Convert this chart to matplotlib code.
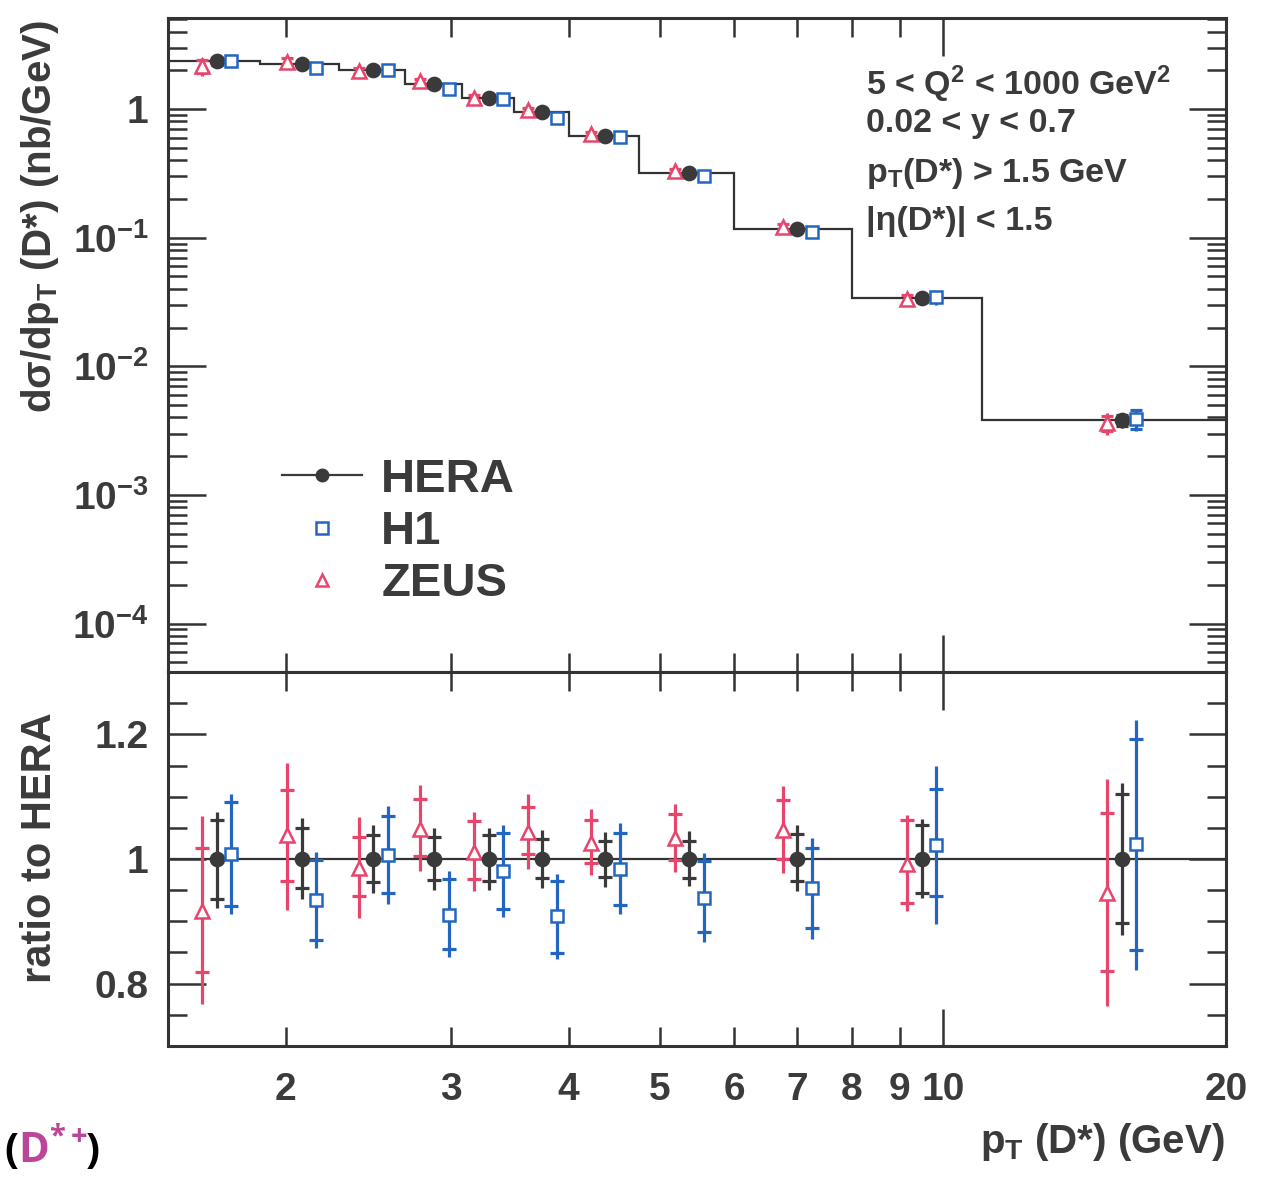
import matplotlib
matplotlib.use("Agg")
import matplotlib.pyplot as plt
import numpy as np
from matplotlib.lines import Line2D
from matplotlib.ticker import FixedLocator, FuncFormatter, LogLocator, MultipleLocator, NullFormatter

plt.rcParams['font.family'] = ['Liberation Sans', 'DejaVu Sans']
plt.rcParams['font.weight'] = 'bold'
plt.rcParams['mathtext.fontset'] = 'custom'
plt.rcParams['mathtext.rm'] = 'Liberation Sans:bold'
plt.rcParams['mathtext.it'] = 'Liberation Sans:bold'
plt.rcParams['mathtext.bf'] = 'Liberation Sans:bold'
plt.rcParams['mathtext.default'] = 'regular'

# ---------------- data ----------------
pt_edges = [1.5, 1.88, 2.28, 2.68, 3.08, 3.5, 4.0, 4.75, 6.0, 8.0, 11.0, 20.0]

# d sigma / d pT (nb/GeV)
hera_xsec = [2.35, 2.23, 2.0, 1.57, 1.21, 0.94, 0.62, 0.32, 0.116, 0.0337, 0.0038]
h1_xsec = [2.37, 2.09, 2.01, 1.43, 1.19, 0.854, 0.610, 0.300, 0.111, 0.0345, 0.0039]
zeus_xsec = [2.15, 2.31, 1.97, 1.65, 1.22, 0.98, 0.636, 0.331, 0.121, 0.0334, 0.0036]

# ratio to HERA: central value, inner (tick) and total (line end) uncertainties
hera_ratio = [1.0] * 11
hera_in_hi = [1.063, 1.050, 1.038, 1.035, 1.039, 1.032, 1.029, 1.029, 1.040, 1.055, 1.105]
hera_in_lo = [0.936, 0.953, 0.963, 0.967, 0.964, 0.969, 0.971, 0.970, 0.965, 0.946, 0.898]
hera_tot_hi = [1.076, 1.065, 1.055, 1.049, 1.049, 1.046, 1.044, 1.045, 1.054, 1.064, 1.122]
hera_tot_lo = [0.921, 0.936, 0.945, 0.951, 0.950, 0.954, 0.955, 0.956, 0.949, 0.937, 0.878]

h1_ratio = [1.008, 0.935, 1.007, 0.910, 0.981, 0.908, 0.984, 0.937, 0.953, 1.023, 1.024]
h1_in_hi = [1.091, 0.999, 1.069, 0.968, 1.041, 0.965, 1.042, 0.997, 1.017, 1.112, 1.192]
h1_in_lo = [0.925, 0.870, 0.945, 0.855, 0.919, 0.849, 0.926, 0.883, 0.890, 0.941, 0.854]
h1_tot_hi = [1.104, 1.011, 1.085, 0.980, 1.055, 0.976, 1.057, 1.009, 1.034, 1.150, 1.223]
h1_tot_lo = [0.912, 0.858, 0.928, 0.842, 0.907, 0.839, 0.912, 0.867, 0.871, 0.895, 0.822]

zeus_ratio = [0.917, 1.038, 0.985, 1.048, 1.012, 1.043, 1.026, 1.033, 1.046, 0.992, 0.945]
zeus_in_hi = [1.018, 1.110, 1.035, 1.096, 1.061, 1.084, 1.062, 1.072, 1.094, 1.062, 1.074]
zeus_in_lo = [0.819, 0.965, 0.940, 1.005, 0.968, 1.008, 0.994, 0.998, 1.000, 0.929, 0.820]
zeus_tot_hi = [1.069, 1.154, 1.068, 1.119, 1.076, 1.104, 1.081, 1.088, 1.117, 1.071, 1.129]
zeus_tot_lo = [0.768, 0.918, 0.905, 0.981, 0.948, 0.984, 0.974, 0.979, 0.977, 0.917, 0.764]

x_major = [10]
x_minor = [2, 3, 4, 5, 6, 7, 8, 9, 20]
ratio_major = [0.8, 1.0, 1.2]
ratio_labels = ["0.8", "1", "1.2"]

cuts = ["5 < Q$^{2}$ < 1000 GeV$^{2}$", "0.02 < y < 0.7",
        "p$_{T}$(D*) > 1.5 GeV", "|\u03b7(D*)| < 1.5"]

# ---------------- style ----------------
TXT = '#3b3b3b'
AXC = '#333333'
C_HERA = '#3a3a3a'
C_H1 = '#2266c2'
C_ZEUS = '#e8456c'

W, H = 1268, 1178
fig = plt.figure(figsize=(W / 100, H / 100), dpi=100)
L, R = 168, 1226
T1, M, B2 = 18, 672, 1046
ax1 = fig.add_axes([L / W, 1 - M / H, (R - L) / W, (M - T1) / H])
ax2 = fig.add_axes([L / W, 1 - B2 / H, (R - L) / W, (B2 - M) / H])

edges = np.array(pt_edges)
xc = 0.5 * (edges[:-1] + edges[1:])
shift = 1.036
x_z = xc / shift
x_h = xc * shift


def draw(ax, x, y, ilo, ihi, tlo, thi, color, marker, filled, ms, tick_ms=10):
    ax.vlines(x, tlo, thi, colors=color, lw=2.3, zorder=3)
    ax.plot(x, ilo, ls='none', marker='_', ms=tick_ms, mew=2.3, color=color, zorder=3)
    ax.plot(x, ihi, ls='none', marker='_', ms=tick_ms, mew=2.3, color=color, zorder=3)
    ax.plot(x, y, ls='none', marker=marker, ms=ms, mfc=(color if filled else 'white'),
            mec=color, mew=1.8, zorder=4)


# ---- top panel ----
hx = np.array(hera_xsec)
ax1.stairs(hx, edges, baseline=None, color=AXC, lw=1.6, zorder=2)
for (x, v, r, ilo, ihi, tlo, thi, c, m, f, ms) in [
        (x_z, zeus_xsec, zeus_ratio, zeus_in_lo, zeus_in_hi, zeus_tot_lo, zeus_tot_hi, C_ZEUS, '^', False, 9.5),
        (xc, hera_xsec, hera_ratio, hera_in_lo, hera_in_hi, hera_tot_lo, hera_tot_hi, C_HERA, 'o', True, 9.5),
        (x_h, h1_xsec, h1_ratio, h1_in_lo, h1_in_hi, h1_tot_lo, h1_tot_hi, C_H1, 's', False, 9)]:
    v = np.array(v); r = np.array(r)
    draw(ax1, x, v, v * np.array(ilo) / r, v * np.array(ihi) / r,
         v * np.array(tlo) / r, v * np.array(thi) / r, c, m, f, ms, tick_ms=8)

ax1.set_yscale('log')
ax1.set_ylim(4.2e-5, 5.1)
ax1.yaxis.set_major_locator(LogLocator(base=10, numticks=20))
ax1.yaxis.set_minor_locator(LogLocator(base=10, subs=np.arange(2, 10), numticks=20))
ax1.yaxis.set_minor_formatter(NullFormatter())
ax1.yaxis.set_major_formatter(FuncFormatter(
    lambda v, p: "1" if abs(v - 1) < 1e-9 else "10$^{%d}$" % int(round(np.log10(v)))))

# ---- ratio panel ----
ax2.stairs(np.array(hera_ratio), edges, baseline=None, color=AXC, lw=1.6, zorder=2)
draw(ax2, x_z, zeus_ratio, zeus_in_lo, zeus_in_hi, zeus_tot_lo, zeus_tot_hi, C_ZEUS, '^', False, 9.5)
draw(ax2, xc, hera_ratio, hera_in_lo, hera_in_hi, hera_tot_lo, hera_tot_hi, C_HERA, 'o', True, 9.5)
draw(ax2, x_h, h1_ratio, h1_in_lo, h1_in_hi, h1_tot_lo, h1_tot_hi, C_H1, 's', False, 9)
ax2.set_ylim(0.7, 1.3)
ax2.yaxis.set_major_locator(FixedLocator(ratio_major))
ax2.yaxis.set_minor_locator(MultipleLocator(0.05))
ax2.yaxis.set_major_formatter(FuncFormatter(lambda v, p: ratio_labels[p] if p is not None and p < len(ratio_labels) else ""))

for ax in (ax1, ax2):
    ax.set_xscale('log')
    ax.set_xlim(1.5, 20)
    ax.xaxis.set_major_locator(FixedLocator(x_major))
    ax.xaxis.set_minor_locator(FixedLocator(x_minor))
    ax.tick_params(axis='both', which='both', direction='in', top=True, right=True,
                   color=AXC, width=1.8, labelsize=28, labelcolor=TXT, pad=14)
    ax.tick_params(axis='both', which='major', length=27)
    ax.tick_params(axis='both', which='minor', length=14)
    for s in ax.spines.values():
        s.set_linewidth(2.2)
        s.set_color(AXC)

ax1.tick_params(axis='x', which='both', labelbottom=False)
fmt = FuncFormatter(lambda v, p: "%g" % v)
ax2.xaxis.set_major_formatter(fmt)
ax2.xaxis.set_minor_formatter(fmt)
ax2.tick_params(axis='x', which='both', pad=19)

# ---- legend ----
handles = [Line2D([], [], color=C_HERA, lw=1.6, marker='o', ms=9),
           Line2D([], [], ls='none', marker='s', ms=8.5, mfc='white', mec=C_H1, mew=1.8),
           Line2D([], [], ls='none', marker='^', ms=9, mfc='white', mec=C_ZEUS, mew=1.8)]
ax1.legend(handles, ["HERA", "H1", "ZEUS"], loc='upper left',
           bbox_to_anchor=(282 / W, 1 - 458 / H), bbox_transform=fig.transFigure,
           frameon=False, fontsize=34, labelcolor=TXT, handlelength=1.7,
           handletextpad=0.4, labelspacing=0.17, borderpad=0, borderaxespad=0, numpoints=1)

# ---- cut annotations ----
for txt, yb in zip(cuts, [95, 132, 182, 230]):
    fig.text(866 / W, 1 - yb / H, txt, fontsize=24.5, color=TXT, va='baseline', ha='left')

# ---- axis titles ----
fig.text(40 / W, 1 - 20 / H, "d\u03c3/dp$_{T}$ (D*) (nb/GeV)", rotation=90, ha='center', va='top',
         fontsize=29, color=TXT)
fig.text(40 / W, 1 - 848 / H, "ratio to HERA", rotation=90, ha='center', va='center',
         fontsize=30, color=TXT)
fig.text(1225 / W, 1 - 1142 / H, "p$_{T}$ (D*) (GeV)", ha='right', va='center',
         fontsize=29, color=TXT)

# ---- slide fragment at bottom left ----
MAG = '#bb4699'
yb = 1 - 1163 / H
fig.text(4 / W, yb, "(", fontsize=30, color='black', family='Open Sans', weight='bold', va='baseline')
fig.text(18 / W, yb, "D$^{*+}$", fontsize=30, color=MAG, family='Open Sans', weight='bold', va='baseline')
fig.text(86 / W, yb, ")", fontsize=30, color='black', family='Open Sans', weight='bold', va='baseline')

fig.savefig("out.png", dpi=100)
